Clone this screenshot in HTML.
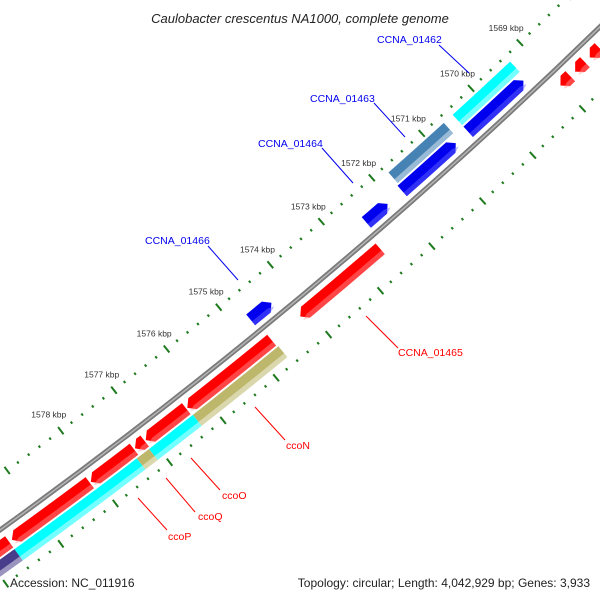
<!DOCTYPE html>
<html><head><meta charset="utf-8"><style>
html,body{margin:0;padding:0;background:#fff}
svg{display:block}
text{font-family:"Liberation Sans","DejaVu Sans",sans-serif}
</style></head><body>
<svg id="map" width="600" height="600" viewBox="0 0 600 600" xmlns="http://www.w3.org/2000/svg">
<rect width="600" height="600" fill="#fff"/>
<g id="rings"></g>
<g id="ticks"></g>
<g id="labels">
<g stroke="#0000ee" stroke-width="1">
<line x1="439" y1="45" x2="469" y2="73"/><line x1="374" y1="103" x2="405" y2="137"/>
<line x1="322" y1="148" x2="353" y2="183"/><line x1="208" y1="246" x2="238" y2="280"/>
</g>
<g stroke="#ff0000" stroke-width="1">
<line x1="366" y1="316" x2="398" y2="348"/><line x1="255" y1="407" x2="285" y2="440"/>
<line x1="191" y1="458" x2="220" y2="490"/><line x1="166" y1="478" x2="195" y2="512"/>
<line x1="138" y1="498" x2="167" y2="530"/>
</g>
<g font-size="10.5" fill="#0000ee">
<text x="377" y="43">CCNA_01462</text>
<text x="310" y="102">CCNA_01463</text>
<text x="258" y="147">CCNA_01464</text>
<text x="145" y="244">CCNA_01466</text>
</g>
<g font-size="10.5" fill="#ff0000">
<text x="398" y="356">CCNA_01465</text>
<text x="286" y="449">ccoN</text>
<text x="222" y="499">ccoO</text>
<text x="198" y="520">ccoQ</text>
<text x="168" y="540">ccoP</text>
</g>
</g>
<text x="300" y="23" text-anchor="middle" font-size="13" font-style="italic" fill="#222">Caulobacter crescentus NA1000, complete genome</text>
<text x="10" y="587" font-size="12" fill="#222">Accession: NC_011916</text>
<text x="590" y="587" font-size="12" fill="#222" text-anchor="end">Topology: circular; Length: 4,042,929 bp; Genes: 3,933</text>
</svg>
<script>
// data (kbp)
const tickLabels = [1569,1570,1571,1572,1573,1574,1575,1576,1577,1578];
const blueStarts = [1569.35,1570.72,1572.08,1574.35];
const blueEnds   = [1570.47,1571.79,1572.5,1574.75];
const redStarts  = [1568.2,1568.5,1568.8,1572.6,1574.7,1576.32,1577.1,1577.3,1578.12,1579.6];
const redEnds    = [1568.4,1568.7,1569.0,1574.15,1576.3,1577.08,1577.28,1578.1,1579.55,1580.6];
const upperStarts = [1569.3,1570.65];
const upperEnds   = [1570.47,1571.76];
const upperColors = ["#00ffff","#4682b4"];
const lowerStarts = [1574.68,1576.3,1577.12,1577.35,1578.1,1579.6];
const lowerEnds   = [1576.3,1577.12,1577.35,1578.1,1579.6,1580.6];
const lowerColors = ["#bdb76b","#00ffff","#bdb76b","#00ffff","#00ffff","#483d8b"];

const CX=-3103, CY=-3779, RB=5310;
const NS="http://www.w3.org/2000/svg";
function ang(k){return (46.53+(k-1569)*0.727)*Math.PI/180;}
function pt(k,r){const a=ang(k);return [CX+r*Math.cos(a),CY+r*Math.sin(a)];}
function mk(tag,attrs,parent){const e=document.createElementNS(NS,tag);for(const k in attrs)e.setAttribute(k,attrs[k]);parent.appendChild(e);return e;}
function bandPath(k1,k2,r0,r1,arrow){
  // arrow: 0 none, -1 tip at k1, 1 tip at k2
  const al=0.1; let a1=k1,a2=k2;
  if(arrow===-1)a1=Math.min(k1+al,k2); if(arrow===1)a2=Math.max(k2-al,k1);
  const p1=pt(a1,r0),p2=pt(a2,r0),p3=pt(a2,r1),p4=pt(a1,r1);
  let d=`M${p1[0]},${p1[1]} A${r0},${r0} 0 0 1 ${p2[0]},${p2[1]}`;
  if(arrow===1){const t=pt(k2,(r0+r1)/2);d+=` L${t[0]},${t[1]}`;}
  d+=` L${p3[0]},${p3[1]} A${r1},${r1} 0 0 0 ${p4[0]},${p4[1]}`;
  if(arrow===-1){const t=pt(k1,(r0+r1)/2);d+=` L${t[0]},${t[1]}`;}
  return d+" Z";
}
const rings=document.getElementById('rings');
function feature(k1,k2,off,color,light,arrow,name){
  const p=mk('path',{d:bandPath(k1,k2,RB+off-7,RB+off+7,arrow),fill:color},rings);
  
  
  const h=mk('path',{d:bandPath(k1,k2,RB+off+2,RB+off+7,arrow),fill:light,opacity:0.45},rings);
  
  
}
// backbone
const b1=pt(1566.5,RB),b2=pt(1581,RB);
const bb=mk('path',{d:`M${b1[0]},${b1[1]} A${RB},${RB} 0 0 1 ${b2[0]},${b2[1]}`,stroke:'#7a7a7a','stroke-width':5,fill:'none'},rings);


const bh=mk('path',{d:`M${b1[0]},${b1[1]} A${RB-1},${RB-1} 0 0 1 ${b2[0]},${b2[1]}`,stroke:'#b5b5b5','stroke-width':1.5,fill:'none'},rings);



upperStarts.forEach((s,i)=>feature(s,upperEnds[i],-30,upperColors[i],'#ffffff',0,'upper-feature-'+i));
blueStarts.forEach((s,i)=>feature(s,blueEnds[i],-14,'#0000ee','#6a6aff',-1,'blue-cds-'+i));
redStarts.forEach((s,i)=>feature(s,redEnds[i],15,'#ff0000','#ff9a9a',1,'red-cds-'+i));
lowerStarts.forEach((s,i)=>feature(s,lowerEnds[i],31,lowerColors[i],'#ffffff',0,'lower-feature-'+i));

// ticks
const ticks=document.getElementById('ticks');
const offs=[-44,47];
for(let j=0;j<=65;j++){
  const k=1567+j*0.2; const major=Math.abs(k-Math.round(k))<0.01;
  offs.forEach(o=>{
    const len=major?4.5:1.3;
    const a=pt(k,RB+o-len),c=pt(k,RB+o+len);
    const l=mk('line',{x1:a[0],y1:a[1],x2:c[0],y2:c[1],stroke:'#1e7a1e','stroke-width':2},ticks);
    
    
  });
}
tickLabels.forEach(k=>{
  const p=pt(k,RB-64);
  const t=mk('text',{x:p[0],y:p[1]+3,'font-size':8.5,fill:'#333','text-anchor':'middle'},ticks);
  t.textContent=k+' kbp';
  
  
});
</script>
</body></html>
